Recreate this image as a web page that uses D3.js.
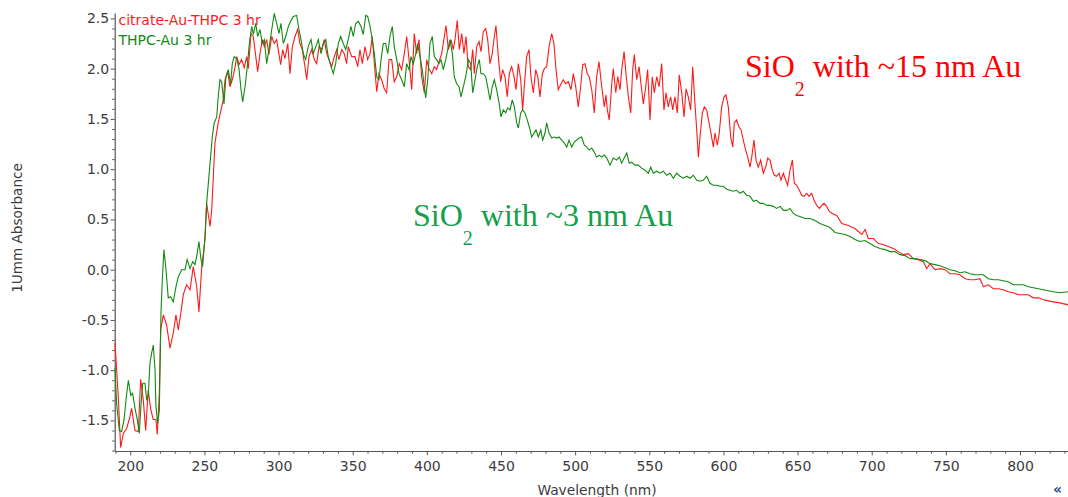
<!DOCTYPE html>
<html>
<head>
<meta charset="utf-8">
<script src="https://cdn.jsdelivr.net/npm/d3@7"></script>
<style>
  html, body { margin: 0; padding: 0; background: #fff; }
  svg { display: block; }
</style>
</head>
<body>
<svg id="chart" width="1068" height="497"></svg>
<script>
// ---------- data ----------
const seriesNames = ["citrate-Au-THPC 3 hr", "THPC-Au 3 hr"];
const xTickValues = [200, 250, 300, 350, 400, 450, 500, 550, 600, 650, 700, 750, 800];
const yTickValues = [-1.5, -1.0, -0.5, 0.0, 0.5, 1.0, 1.5, 2.0, 2.5];
const annotations = ["SiO", "2", " with ~15 nm Au", " with ~3 nm Au"];

// [wavelength nm, absorbance]
const citrateAuTHPC = [[189.7,-0.73],[191.9,-1.26],[193.5,-1.77],[195.3,-1.63],[197.6,-1.58],[199.8,-1.46],[200.9,-1.38],[203.2,-1.60],[205.4,-1.61],[207.0,-1.09],[208.8,-1.30],[210.4,-1.60],[212.1,-1.20],[213.8,-1.39],[215.5,-1.49],[217.3,-1.49],[218.2,-1.64],[219.6,-1.23],[220.5,-0.60],[222.3,-0.45],[224.5,-0.55],[226.8,-0.78],[229.0,-0.63],[230.8,-0.45],[232.4,-0.60],[234.7,-0.37],[235.7,-0.25],[238.0,-0.15],[240.3,-0.20],[242.5,0.03],[244.8,-0.17],[246.3,-0.42],[248.2,0.03],[250.4,0.30],[251.5,0.66],[253.8,0.43],[254.9,0.59],[257.1,1.26],[259.3,1.46],[261.2,1.59],[262.7,1.69],[263.9,1.89],[265.7,1.97],[267.2,1.82],[268.8,1.89],[270.6,2.01],[271.8,2.12],[273.3,2.04],[275.1,2.09],[276.9,2.01],[278.5,2.12],[279.6,2.00],[281.4,2.35],[282.9,2.32],[284.1,2.19],[285.9,1.97],[287.5,2.15],[289.0,2.29],[290.4,2.22],[292.0,2.29],[293.5,2.14],[295.4,2.32],[297.1,2.25],[298.7,2.29],[299.8,2.19],[301.4,2.04],[302.8,2.19],[304.3,2.10],[306.2,2.25],[307.7,1.95],[309.3,2.22],[311.1,2.32],[312.9,2.39],[314.4,2.25],[316.0,2.19],[317.8,2.02],[319.0,1.89],[320.5,2.12],[322.3,2.19],[324.1,2.09],[325.7,2.05],[327.3,2.22],[329.1,2.19],[330.8,2.29],[332.5,2.15],[334.0,2.09],[335.8,2.02],[337.6,2.12],[339.2,2.19],[340.7,2.09],[342.6,2.19],[344.3,2.15],[345.9,2.05],[347.0,2.22],[349.3,2.12],[351.5,2.12],[353.4,2.02],[354.9,2.19],[356.5,2.05],[358.3,2.22],[360.1,2.09],[361.7,2.15],[363.2,2.32],[364.6,2.05],[366.2,1.77],[367.7,1.95],[369.5,1.89],[371.3,1.80],[372.9,1.76],[374.5,2.09],[376.3,2.09],[378.0,1.87],[379.7,1.92],[381.4,2.05],[383.0,1.99],[384.8,2.15],[386.4,2.32],[388.0,2.09],[389.8,1.79],[391.5,2.35],[393.1,2.15],[394.7,2.29],[396.5,1.92],[398.3,1.76],[399.9,2.09],[401.4,2.00],[403.3,1.95],[405.0,2.02],[406.6,1.99],[408.2,2.07],[410.0,2.15],[411.8,2.32],[412.9,2.43],[414.5,2.19],[416.3,2.29],[417.8,2.19],[419.0,2.29],[420.5,2.48],[421.9,2.19],[423.5,2.35],[425.0,2.15],[426.4,2.32],[427.9,2.02],[429.6,1.99],[430.9,2.19],[432.0,1.95],[433.6,2.22],[435.2,2.27],[436.5,2.17],[438.1,2.37],[439.7,2.40],[441.0,2.29],[442.6,2.05],[444.1,2.15],[445.5,2.32],[446.6,2.43],[448.2,2.12],[449.8,1.87],[451.1,1.99],[452.7,1.92],[454.2,1.72],[455.6,1.95],[457.2,2.02],[458.8,1.92],[460.1,1.79],[461.7,2.05],[463.3,1.89],[464.6,1.59],[465.7,1.82],[467.3,2.12],[468.9,2.19],[470.2,1.92],[471.8,1.76],[473.4,1.99],[474.8,1.92],[476.3,1.72],[477.9,1.95],[479.2,2.00],[480.8,2.02],[482.4,2.22],[484.2,2.35],[485.7,2.25],[487.1,1.99],[488.6,1.79],[490.5,1.85],[492.0,1.89],[493.6,1.85],[495.4,1.87],[497.2,1.79],[498.8,1.95],[500.4,1.82],[502.1,1.62],[503.7,1.82],[505.1,2.04],[506.7,2.05],[508.2,1.95],[509.5,1.92],[511.2,1.79],[512.9,1.56],[514.5,1.92],[516.1,2.07],[517.9,1.82],[519.7,1.62],[520.8,1.74],[521.7,1.59],[523.0,1.49],[524.7,1.85],[525.7,2.00],[527.4,1.76],[528.7,1.92],[530.3,1.79],[531.4,1.99],[533.0,2.17],[534.3,1.95],[535.9,1.72],[537.5,1.56],[538.8,1.99],[539.9,2.14],[541.5,1.89],[543.1,2.02],[544.4,1.85],[546.0,1.65],[547.6,1.82],[548.9,1.99],[550.5,1.49],[552.0,1.92],[553.4,1.76],[555.0,1.92],[556.6,1.82],[558.4,2.05],[559.9,1.59],[561.3,1.76],[562.8,1.62],[564.4,1.72],[565.8,1.59],[567.3,1.72],[568.9,1.56],[570.2,1.94],[571.9,1.76],[573.4,1.52],[574.8,1.80],[576.3,1.72],[577.9,1.59],[579.3,2.02],[580.8,1.65],[582.0,1.39],[583.1,1.12],[584.2,1.32],[585.8,1.56],[587.1,1.62],[588.7,1.59],[590.3,1.46],[591.6,1.36],[593.2,1.22],[594.3,1.36],[595.9,1.24],[597.2,1.36],[598.8,1.62],[600.4,1.72],[601.7,1.74],[603.3,1.62],[604.9,1.32],[606.3,1.22],[607.3,1.46],[608.9,1.49],[610.5,1.42],[611.9,1.39],[613.4,1.29],[615.0,1.19],[616.4,1.12],[617.9,1.02],[619.1,1.12],[620.6,1.29],[622.0,1.09],[623.5,1.02],[625.1,1.09],[626.9,0.96],[628.5,1.02],[629.9,1.11],[631.4,1.09],[633.0,0.99],[634.3,0.94],[635.9,0.93],[637.5,0.96],[638.8,0.89],[640.4,0.96],[642.0,0.89],[643.3,0.84],[644.9,0.99],[646.5,1.09],[647.8,0.86],[649.4,0.84],[651.2,0.79],[652.8,0.74],[654.3,0.73],[656.2,0.76],[657.7,0.73],[659.5,0.76],[661.1,0.69],[662.9,0.64],[664.7,0.61],[666.3,0.64],[667.8,0.66],[669.6,0.63],[671.4,0.58],[673.4,0.56],[676.4,0.54],[679.8,0.46],[684.2,0.44],[688.7,0.41],[693.3,0.35],[695.5,0.40],[697.7,0.31],[701.1,0.31],[704.4,0.26],[707.8,0.25],[711.2,0.23],[714.6,0.21],[717.9,0.18],[721.3,0.15],[724.7,0.16],[728.1,0.11],[731.4,0.10],[734.8,0.08],[737.1,0.01],[739.3,0.06],[742.7,0.00],[746.1,0.01],[749.4,0.00],[752.8,-0.04],[756.2,-0.04],[759.5,-0.05],[762.9,-0.09],[766.3,-0.10],[769.6,-0.10],[773.0,-0.09],[775.3,-0.17],[778.6,-0.15],[782.0,-0.19],[785.4,-0.19],[788.7,-0.20],[792.1,-0.22],[795.5,-0.23],[798.9,-0.25],[802.2,-0.25],[805.6,-0.25],[809.0,-0.28],[812.4,-0.28],[815.7,-0.30],[819.1,-0.31],[822.5,-0.32],[827.0,-0.33],[832.4,-0.35]];

const thpcAu = [[189.7,-0.98],[190.8,-1.33],[192.6,-1.60],[194.2,-1.61],[195.8,-1.49],[197.6,-1.23],[198.7,-1.10],[200.3,-1.25],[201.6,-1.23],[203.2,-1.38],[204.7,-1.49],[206.1,-1.63],[207.2,-1.35],[208.4,-1.13],[209.9,-1.13],[211.1,-1.30],[212.1,-1.26],[213.3,-0.93],[214.4,-0.83],[215.5,-0.75],[216.7,-1.00],[217.3,-1.36],[218.5,-1.53],[219.6,-1.40],[220.7,-0.43],[221.6,-0.10],[222.7,0.20],[224.1,0.00],[225.6,-0.28],[227.2,-0.27],[229.0,-0.32],[230.8,-0.17],[232.4,-0.07],[234.7,0.00],[236.9,0.00],[238.4,0.10],[240.3,0.01],[242.1,0.08],[243.6,0.05],[244.8,0.13],[246.3,0.28],[247.7,0.10],[248.8,0.03],[250.4,0.33],[251.5,0.66],[253.8,1.06],[255.3,1.32],[256.6,1.46],[258.3,1.52],[259.3,1.72],[260.5,1.89],[261.6,1.87],[263.2,1.65],[264.5,1.92],[266.1,1.99],[267.7,1.85],[268.8,2.05],[270.1,2.12],[271.8,2.10],[273.3,2.00],[274.7,1.79],[275.8,1.67],[277.4,1.82],[278.9,2.02],[280.3,2.25],[281.9,2.42],[283.0,2.34],[284.6,2.45],[285.9,2.32],[287.5,2.39],[289.0,2.25],[290.4,2.29],[292.0,2.05],[293.5,2.19],[295.4,2.39],[297.1,2.55],[298.7,2.45],[300.3,2.35],[301.6,2.45],[303.2,2.25],[304.8,2.32],[306.6,2.42],[308.4,2.48],[309.9,2.52],[312.2,2.53],[313.8,2.39],[315.1,2.29],[316.7,2.15],[318.3,2.09],[320.0,2.22],[321.9,2.29],[323.4,2.15],[325.2,2.22],[326.8,2.29],[328.6,2.15],[330.2,2.25],[331.8,2.29],[333.5,2.12],[335.4,2.02],[336.9,1.95],[338.5,2.05],[340.3,2.25],[341.9,2.32],[343.6,2.25],[345.3,2.19],[347.0,2.29],[348.8,2.42],[350.4,2.32],[352.0,2.45],[353.8,2.47],[355.6,2.42],[357.1,2.34],[358.8,2.53],[360.1,2.52],[361.7,2.42],[363.2,2.29],[364.6,2.15],[366.2,1.92],[367.7,1.89],[369.1,2.09],[370.6,2.25],[372.2,2.25],[373.6,2.15],[375.1,2.32],[376.7,2.42],[378.0,2.22],[379.7,2.09],[381.2,1.95],[383.0,1.89],[384.8,1.82],[386.4,2.05],[388.0,1.99],[389.3,2.12],[390.9,2.05],[392.5,2.15],[393.8,2.25],[395.4,2.12],[396.9,1.99],[398.3,1.82],[399.2,1.71],[400.6,1.89],[402.1,2.25],[403.7,2.32],[405.0,2.12],[406.6,2.09],[408.2,2.05],[409.5,2.09],[411.1,1.99],[412.7,2.09],[414.1,2.19],[415.6,2.29],[417.2,2.15],[418.5,1.92],[420.1,1.85],[421.7,1.82],[423.0,1.72],[424.6,1.82],[426.2,1.92],[428.0,2.09],[429.6,2.05],[430.9,1.76],[432.5,1.89],[434.0,2.02],[435.4,2.09],[436.5,1.95],[438.1,1.95],[439.7,1.92],[441.0,1.82],[442.6,1.69],[444.1,1.82],[445.5,1.89],[447.1,1.79],[448.7,1.66],[450.0,1.52],[451.6,1.59],[453.2,1.56],[454.5,1.61],[456.1,1.59],[457.6,1.69],[459.0,1.62],[460.6,1.46],[461.7,1.41],[463.3,1.56],[464.6,1.59],[466.2,1.56],[467.7,1.49],[469.1,1.42],[470.7,1.32],[472.3,1.36],[473.6,1.39],[475.2,1.32],[476.8,1.39],[478.1,1.29],[479.7,1.36],[480.8,1.46],[482.4,1.36],[484.2,1.31],[486.0,1.32],[487.6,1.31],[489.1,1.32],[490.9,1.29],[492.7,1.26],[494.3,1.22],[495.9,1.29],[497.7,1.22],[499.4,1.27],[501.1,1.29],[502.6,1.31],[504.4,1.32],[506.2,1.24],[507.8,1.22],[509.5,1.19],[511.2,1.21],[512.9,1.17],[514.5,1.12],[516.3,1.14],[517.9,1.12],[519.7,1.14],[521.3,1.11],[523.5,1.04],[525.7,1.11],[528.0,1.09],[529.8,1.12],[531.4,1.06],[533.0,1.11],[534.8,1.16],[536.5,1.06],[538.1,1.07],[540.4,1.04],[542.6,1.04],[544.9,1.01],[547.1,0.99],[549.3,0.96],[551.0,1.02],[552.7,0.96],[555.0,0.98],[557.2,0.96],[559.5,0.98],[561.7,0.94],[564.0,0.96],[566.2,0.91],[568.5,0.96],[570.7,0.93],[573.0,0.91],[575.2,0.93],[577.5,0.91],[579.7,0.94],[582.0,0.89],[584.2,0.88],[586.4,0.89],[588.7,0.93],[590.9,0.86],[593.2,0.84],[595.5,0.84],[597.7,0.83],[599.9,0.83],[602.2,0.80],[604.4,0.79],[606.7,0.78],[608.9,0.79],[611.2,0.76],[613.4,0.78],[615.7,0.74],[617.9,0.73],[620.2,0.68],[622.4,0.69],[624.7,0.66],[626.9,0.66],[629.2,0.64],[631.4,0.64],[633.6,0.63],[635.9,0.61],[638.2,0.63],[640.4,0.59],[642.7,0.59],[644.9,0.61],[647.1,0.56],[649.4,0.54],[651.6,0.53],[655.0,0.51],[658.4,0.51],[661.8,0.49],[665.1,0.46],[668.5,0.44],[671.9,0.42],[675.2,0.37],[678.6,0.36],[682.0,0.35],[685.4,0.33],[688.7,0.30],[692.1,0.28],[695.5,0.29],[698.9,0.26],[702.2,0.23],[705.6,0.21],[709.0,0.20],[712.4,0.18],[715.7,0.18],[719.1,0.15],[722.5,0.14],[725.9,0.11],[729.2,0.11],[732.6,0.10],[736.0,0.09],[739.3,0.06],[742.7,0.05],[746.1,0.04],[749.4,0.02],[752.8,0.00],[756.2,-0.01],[759.5,-0.03],[762.9,-0.02],[766.3,-0.04],[769.6,-0.05],[773.0,-0.05],[775.3,-0.05],[778.6,-0.09],[782.0,-0.10],[785.4,-0.10],[788.7,-0.11],[792.1,-0.12],[795.5,-0.15],[798.9,-0.15],[802.2,-0.15],[805.6,-0.17],[809.0,-0.18],[812.4,-0.19],[815.7,-0.20],[819.1,-0.21],[822.5,-0.22],[827.0,-0.23],[832.4,-0.22]];

// ---------- layout ----------
const svg = d3.select("#chart");
const plotLeft = 114.7, plotRight = 1068.2, plotTop = 13, plotBottom = 451;
const x = d3.scaleLinear().domain([189.5, 832.5]).range([plotLeft, plotRight]);
const y = d3.scaleLinear().domain([-1.804, 2.554]).range([plotBottom, plotTop]);

const axisColor = "#555";
const textColor = "#3c3c3c";
const tickFont = "'DejaVu Sans', Verdana, sans-serif";

// minor ticks
const xMinor = d3.range(190, 831, 10).filter(v => v % 50 !== 0);
const yMinor = d3.range(-18, 26, 1).map(v => v / 10).filter(v => Math.abs(Math.round(v * 10)) % 5 !== 0);

const gx = svg.append("g").attr("transform", `translate(0,${plotBottom})`);
gx.call(d3.axisBottom(x).tickValues(xMinor).tickSize(2.7).tickFormat(""))
  .call(g => g.select(".domain").remove());
const gx2 = svg.append("g").attr("transform", `translate(0,${plotBottom})`);
gx2.call(d3.axisBottom(x).tickValues(xTickValues).tickSize(4.3).tickPadding(6).tickSizeOuter(0).tickFormat(d3.format("d")));

const gy = svg.append("g").attr("transform", `translate(${plotLeft},0)`);
gy.call(d3.axisLeft(y).tickValues(yMinor).tickSize(2.5).tickFormat(""))
  .call(g => g.select(".domain").remove());
const gy2 = svg.append("g").attr("transform", `translate(${plotLeft},0)`);
gy2.call(d3.axisLeft(y).tickValues(yTickValues).tickSize(4).tickPadding(1.5).tickSizeOuter(0).tickFormat(d3.format(".1f")));

svg.selectAll(".domain").attr("stroke", axisColor).attr("stroke-width", 1.2);
svg.selectAll(".tick line").attr("stroke", axisColor);
svg.selectAll(".tick text")
  .attr("fill", textColor)
  .style("font-family", tickFont)
  .style("font-size", "14px");
gy2.selectAll(".tick text").text(d => d3.format(".1f")(d).replace("\u2212", "-"));

// axis titles
svg.append("text")
  .attr("transform", `translate(21.5,228) rotate(-90)`)
  .attr("text-anchor", "middle")
  .attr("fill", textColor)
  .style("font-family", tickFont)
  .style("font-size", "13.6px")
  .text("1Umm Absorbance");
svg.append("text")
  .attr("x", 597).attr("y", 495)
  .attr("text-anchor", "middle")
  .attr("fill", textColor)
  .style("font-family", tickFont)
  .style("font-size", "13.8px")
  .text("Wavelength (nm)");

// legend text
const colors = ["#ff1a1a", "#118a11"];
svg.append("text").attr("x", 118.5).attr("y", 25)
  .attr("fill", colors[0]).style("font-family", tickFont).style("font-size", "14px")
  .text(seriesNames[0]);
svg.append("text").attr("x", 118.5).attr("y", 45)
  .attr("fill", colors[1]).style("font-family", tickFont).style("font-size", "14px")
  .text(seriesNames[1]);

// lines
const line = d3.line().x(d => x(d[0])).y(d => y(d[1]));
svg.append("path").datum(citrateAuTHPC)
  .attr("d", line).attr("fill", "none")
  .attr("stroke", colors[0]).attr("stroke-width", 1.1);
svg.append("path").datum(thpcAu)
  .attr("d", line).attr("fill", "none")
  .attr("stroke", colors[1]).attr("stroke-width", 1.1);

// annotations
const serif = "'Liberation Serif', 'Times New Roman', serif";
function annotate(px, py, color, rest) {
  const t = svg.append("text").attr("x", px).attr("y", py)
    .attr("fill", color).style("font-family", serif).style("font-size", "32px");
  t.append("tspan").text(annotations[0]);
  t.append("tspan").attr("dy", 19).style("font-size", "20px").text(annotations[1]);
  t.append("tspan").attr("dy", -19).text(rest);
}
annotate(745, 77, "#ff0000", annotations[2]);
annotate(413, 226, "#12a04a", annotations[3]);

// corner glyph
svg.append("text").attr("x", 1053).attr("y", 494)
  .attr("fill", "#2a4d80").style("font-family", tickFont).style("font-weight", "bold")
  .style("font-size", "14px").text("«");
</script>
</body>
</html>
